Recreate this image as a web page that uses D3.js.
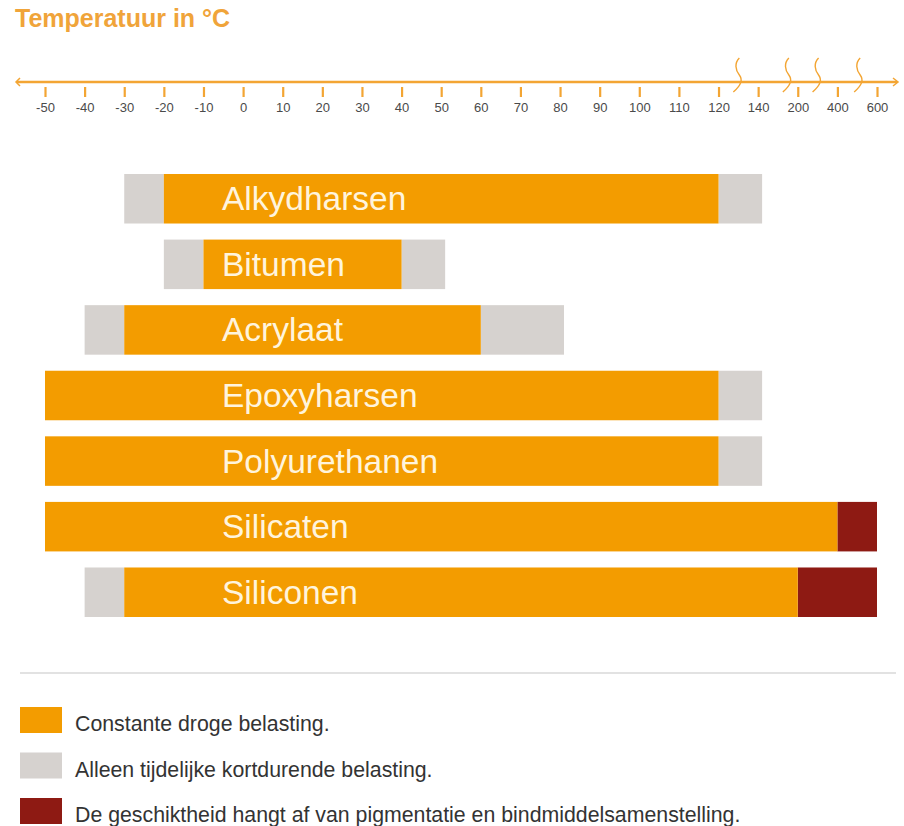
<!DOCTYPE html>
<html>
<head>
<meta charset="utf-8">
<script src="https://cdn.jsdelivr.net/npm/d3@7"></script>
<style>
  html, body { margin: 0; padding: 0; background: #ffffff; }
  svg { display: block; }
</style>
</head>
<body>
<div id="chart"></div>
<script>
// ---- data ----
const title = "Temperatuur in °C";
const tickValues = [-50, -40, -30, -20, -10, 0, 10, 20, 30, 40, 50, 60, 70, 80, 90, 100, 110, 120, 140, 200, 400, 600];
const tickLabels = tickValues.map(String);
const breakValues = [130, 185, 300, 510];

const categories = ["Alkydharsen", "Bitumen", "Acrylaat", "Epoxyharsen", "Polyurethanen", "Silicaten", "Siliconen"];
const shortMin   = [-30, -20, -40, null, null, null, -40];   // grey left start
const constMin   = [-20, -10, -30, -50, -50, -50, -30];      // orange start
const constMax   = [120, 40, 60, 120, 120, 400, 200];        // orange end
const shortMax   = [146, 51, 81, 146, 146, null, null];      // grey right end
const pigmentMax = [null, null, null, null, null, 600, 600]; // dark red end

const legendLabels = [
  "Constante droge belasting.",
  "Alleen tijdelijke kortdurende belasting.",
  "De geschiktheid hangt af van pigmentatie en bindmiddelsamenstelling."
];

// ---- styles ----
const C_ORANGE = "#f39c00";
const C_GREY = "#d6d2cf";
const C_RED = "#8e1a13";
const C_AXIS = "#f3a533";
const C_TITLE = "#f0a43a";
const FONT = "'Liberation Sans', Arial, sans-serif";

const W = 904, H = 826;
const svg = d3.select("#chart").append("svg").attr("width", W).attr("height", H);

// title
svg.append("text")
  .attr("x", 15).attr("y", 27)
  .attr("font-family", FONT).attr("font-weight", "bold").attr("font-size", 25)
  .attr("fill", C_TITLE)
  .text(title);

// scales: evenly spaced tick positions, piecewise linear mapping of values
const xPoint = d3.scalePoint().domain(tickLabels).range([45, 877]);
const x = d3.scaleLinear().domain(tickValues).range(tickLabels.map(l => xPoint(l)));

const axisY = 82;
// axis line
svg.append("line")
  .attr("x1", 17).attr("x2", 897).attr("y1", axisY).attr("y2", axisY)
  .attr("stroke", C_AXIS).attr("stroke-width", 2.5);
svg.append("path")
  .attr("d", `M20,78 L16,82 L20,86`)
  .attr("fill", "none").attr("stroke", C_AXIS).attr("stroke-width", 1.5);
svg.append("path")
  .attr("d", `M893,78 L898,82 L893,86`)
  .attr("fill", "none").attr("stroke", C_AXIS).attr("stroke-width", 1.5);

// ticks via d3 axis
const axisG = svg.append("g")
  .attr("transform", `translate(0,${axisY + 5})`)
  .call(d3.axisBottom(xPoint).tickSize(10).tickPadding(6));
axisG.select(".domain").remove();
axisG.selectAll(".tick line").attr("stroke", C_AXIS).attr("stroke-width", 2.2);
axisG.selectAll(".tick text")
  .attr("fill", "#4a4a4a").attr("font-family", FONT).attr("font-size", 13)
  .attr("y", 25).attr("dy", 0);

// break marks
svg.append("g").selectAll("path").data(breakValues).join("path")
  .attr("d", v => {
    const bx = x(v);
    return `M${bx + 1},58 C${bx - 4},63 ${bx - 3},70 ${bx + 1},75 C${bx + 5},80 ${bx + 2},86 ${bx - 5},92`;
  })
  .attr("fill", "none").attr("stroke", C_AXIS).attr("stroke-width", 1.4);

// bars
const y = d3.scaleBand().domain(categories).range([174, 617]).paddingInner(0.245).paddingOuter(0);
const rows = categories.map((c, i) => ({ c, i }));
const segs = [];
rows.forEach(({ c, i }) => {
  if (shortMin[i] != null) segs.push({ c, a: shortMin[i], b: constMin[i], col: C_GREY });
  if (shortMax[i] != null) segs.push({ c, a: constMax[i], b: shortMax[i], col: C_GREY });
  if (pigmentMax[i] != null) segs.push({ c, a: constMax[i], b: pigmentMax[i], col: C_RED });
  segs.push({ c, a: constMin[i], b: constMax[i], col: C_ORANGE });
});
svg.append("g").selectAll("rect").data(segs).join("rect")
  .attr("x", d => x(d.a))
  .attr("width", d => x(d.b) - x(d.a))
  .attr("y", d => y(d.c))
  .attr("height", y.bandwidth())
  .attr("fill", d => d.col);

svg.append("g").selectAll("text").data(categories).join("text")
  .attr("x", 222)
  .attr("y", d => y(d) + y.bandwidth() / 2 + 11.5)
  .attr("font-family", FONT).attr("font-size", 33.5)
  .attr("fill", "#fff4dc")
  .text(d => d);

// separator
svg.append("line")
  .attr("x1", 20).attr("x2", 896).attr("y1", 673).attr("y2", 673)
  .attr("stroke", "#e2e2e2").attr("stroke-width", 2);

// legend
const legendColors = [C_ORANGE, C_GREY, C_RED];
const ly = d3.scalePoint().domain(legendLabels).range([707, 798]);
const lg = svg.append("g");
lg.selectAll("rect").data(legendLabels).join("rect")
  .attr("x", 20).attr("y", d => ly(d)).attr("width", 42).attr("height", 26)
  .attr("fill", (d, i) => legendColors[i]);
lg.selectAll("text").data(legendLabels).join("text")
  .attr("x", 75).attr("y", d => ly(d) + 24)
  .attr("font-family", FONT).attr("font-size", 21.3)
  .attr("fill", "#333")
  .text(d => d);
</script>
</body>
</html>
